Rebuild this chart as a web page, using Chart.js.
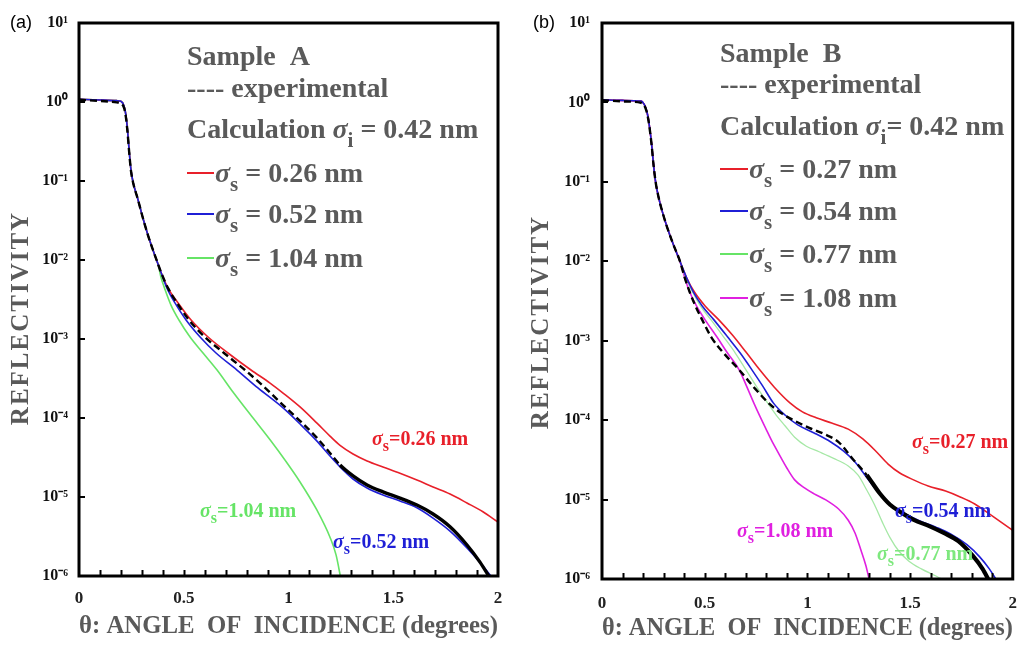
<!DOCTYPE html>
<html><head><meta charset="utf-8">
<script src="https://cdn.jsdelivr.net/npm/chart.js@4.4.0/dist/chart.umd.min.js"></script>
<style>
html,body{margin:0;padding:0;background:#fff;}
#wrap{position:relative;width:1031px;height:646px;overflow:hidden;}
#boxA{position:absolute;left:0;top:0;width:515px;height:646px;}
#boxB{position:absolute;left:515px;top:0;width:516px;height:646px;}
</style></head><body>
<div id="wrap"><div id="boxA"><canvas id="cA"></canvas></div><div id="boxB"><canvas id="cB"></canvas></div></div>
<script>
// ---------- axis ticks ----------
const xTickValues = [0, 0.5, 1, 1.5, 2];
const xTickLabels = ['0', '0.5', '1', '1.5', '2'];
const xMinorTicks = [0.1,0.2,0.3,0.4,0.5,0.6,0.7,0.8,0.9,1.0,1.1,1.2,1.3,1.4,1.5,1.6,1.7,1.8,1.9];
const yTickValues = [1e-6, 1e-5, 1e-4, 1e-3, 1e-2, 1e-1, 1, 10];
const yTickLabels = ['10⁻⁶','10⁻⁵','10⁻⁴','10⁻³','10⁻²','10⁻¹','10⁰','10¹'];

// ---------- panel (a) : Sample A ----------
const thetaHeadA   = [0, 0.1, 0.18, 0.2, 0.215, 0.224, 0.2315, 0.239, 0.248, 0.258, 0.282, 0.305, 0.329, 0.353, 0.377];
const reflHeadA    = [1.08, 1.06, 1.04, 1.02, 0.89, 0.68, 0.44, 0.25, 0.138, 0.097, 0.0574, 0.034, 0.0207, 0.0134, 0.0089];
const reflHeadExpA = [1.07, 1.03, 0.99, 0.96, 0.84, 0.64, 0.42, 0.24, 0.135, 0.096, 0.0574, 0.034, 0.0207, 0.0134, 0.0089];

const thetaExpA = [0.391,0.425,0.468,0.525,0.601,0.692,0.792,0.874,0.974,1.055,1.136,1.198,1.246,1.308,1.375,1.451,1.532,1.613,1.690,1.771,1.852,1.914,1.962];
const reflExpA  = [7.05e-3,4.4e-3,2.86e-3,1.74e-3,1.06e-3,6.65e-4,4.05e-4,2.62e-4,1.46e-4,9.2e-5,5.6e-5,3.6e-5,2.54e-5,1.85e-5,1.42e-5,1.16e-5,9.7e-6,7.9e-6,6.1e-6,4.2e-6,2.47e-6,1.5e-6,9.4e-7];

const thetaS026 = [0.391,0.425,0.473,0.535,0.616,0.711,0.821,0.912,0.974,1.055,1.136,1.198,1.246,1.308,1.375,1.451,1.532,1.613,1.690,1.771,1.852,1.928,2.0];
const reflS026  = [7.05e-3,4.4e-3,2.86e-3,1.74e-3,1.06e-3,6.65e-4,4.05e-4,2.77e-4,2.07e-4,1.38e-4,8.6e-5,5.9e-5,4.5e-5,3.5e-5,2.86e-5,2.4e-5,2.0e-5,1.64e-5,1.34e-5,1.09e-5,8.4e-6,6.5e-6,4.8e-6];

const thetaS052 = [0.391,0.420,0.458,0.511,0.578,0.654,0.754,0.854,0.974,1.055,1.136,1.198,1.246,1.308,1.375,1.451,1.532,1.613,1.690,1.771,1.852,1.928,1.981];
const reflS052  = [7.05e-3,4.4e-3,2.86e-3,1.74e-3,1.06e-3,6.65e-4,4.05e-4,2.4e-4,1.34e-4,8.4e-5,5.1e-5,3.3e-5,2.4e-5,1.69e-5,1.3e-5,1.06e-5,8.9e-6,7.3e-6,5.4e-6,3.7e-6,2.26e-6,1.34e-6,8.9e-7];

const thetaS104 = [0.391,0.411,0.439,0.477,0.530,0.592,0.659,0.735,0.816,0.912,0.983,1.055,1.136,1.198,1.227,1.251];
const reflS104  = [6.1e-3,4.2e-3,2.69e-3,1.74e-3,1.06e-3,6.65e-4,4.05e-4,2.13e-4,1.12e-4,5.3e-5,2.94e-5,1.55e-5,6.8e-6,3.1e-6,1.85e-6,8.9e-7];

// ---------- panel (b) : Sample B ----------
const thetaHeadB   = [0, 0.1, 0.19, 0.204, 0.213, 0.223, 0.232, 0.242, 0.251, 0.261, 0.275, 0.294, 0.318, 0.346, 0.379];
const reflHeadB    = [1.08, 1.06, 1.04, 0.96, 0.855, 0.68, 0.48, 0.29, 0.164, 0.1, 0.0647, 0.0419, 0.0264, 0.0166, 0.0101];
const reflHeadExpB = [1.07, 1.03, 0.99, 0.93, 0.83, 0.66, 0.47, 0.285, 0.162, 0.1, 0.0647, 0.0419, 0.0264, 0.0166, 0.0101];

const thetaExpB = [0.403,0.427,0.455,0.488,0.531,0.592,0.668,0.739,0.810,0.872,0.938,1.009,1.081,1.152,1.223,1.289,1.351,1.403,1.460,1.521,1.588,1.664,1.735,1.806,1.853,1.886];
const reflExpB  = [6.2e-3,4.1e-3,2.74e-3,1.83e-3,1.12e-3,7.0e-4,4.3e-4,2.6e-4,1.65e-4,1.23e-4,9.8e-5,8.0e-5,6.7e-5,5.3e-5,3.2e-5,2.04e-5,1.21e-5,8.6e-6,6.8e-6,5.5e-6,4.7e-6,3.8e-6,3.0e-6,1.95e-6,1.34e-6,9.4e-7];

const thetaS027 = [0.412,0.450,0.502,0.569,0.635,0.701,0.768,0.839,0.915,0.976,1.043,1.118,1.199,1.270,1.336,1.393,1.450,1.517,1.588,1.673,1.744,1.815,1.886,1.943,2.0];
const reflS027  = [6.2e-3,4.1e-3,2.74e-3,1.83e-3,1.18e-3,7.2e-4,4.3e-4,2.6e-4,1.65e-4,1.27e-4,1.07e-4,9.2e-5,7.7e-5,5.8e-5,4.0e-5,2.8e-5,2.16e-5,1.77e-5,1.48e-5,1.28e-5,1.08e-5,8.8e-6,6.6e-6,5.2e-6,4.1e-6];

const thetaS054 = [0.412,0.445,0.488,0.545,0.611,0.673,0.730,0.782,0.834,0.891,0.953,1.033,1.114,1.175,1.232,1.280,1.332,1.389,1.460,1.540,1.626,1.697,1.777,1.839,1.886,1.924];
const reflS054  = [6.2e-3,4.1e-3,2.74e-3,1.83e-3,1.12e-3,7.0e-4,4.3e-4,2.7e-4,1.65e-4,1.16e-4,8.7e-5,6.9e-5,5.3e-5,4.1e-5,2.98e-5,2.04e-5,1.36e-5,9.3e-6,7.0e-6,5.5e-6,4.5e-6,3.7e-6,2.7e-6,1.9e-6,1.34e-6,9.4e-7];

const thetaS077 = [0.408,0.441,0.479,0.531,0.592,0.649,0.701,0.754,0.806,0.848,0.891,0.938,0.995,1.057,1.128,1.199,1.246,1.289,1.327,1.365,1.403,1.445,1.493,1.555,1.626,1.673];
const reflS077  = [6.2e-3,4.1e-3,2.74e-3,1.83e-3,1.12e-3,7.0e-4,4.3e-4,2.6e-4,1.65e-4,1.16e-4,8.5e-5,6.1e-5,4.7e-5,4.0e-5,3.3e-5,2.65e-5,2.04e-5,1.32e-5,8.6e-6,5.2e-6,3.3e-6,2.25e-6,1.69e-6,1.34e-6,1.09e-6,9.4e-7];

const thetaS108 = [0.403,0.427,0.460,0.502,0.559,0.611,0.668,0.706,0.739,0.768,0.796,0.825,0.858,0.900,0.938,0.986,1.033,1.090,1.152,1.199,1.232,1.261,1.284,1.303];
const reflS108  = [6.2e-3,4.1e-3,2.74e-3,1.83e-3,1.12e-3,7.0e-4,4.3e-4,2.6e-4,1.65e-4,1.13e-4,8.0e-5,5.6e-5,3.9e-5,2.5e-5,1.77e-5,1.4e-5,1.18e-5,9.9e-6,7.6e-6,5.5e-6,3.8e-6,2.3e-6,1.5e-6,9.4e-7];

// ---------- styling ----------
const SERIF = "'Liberation Serif', 'Times New Roman', serif";
const GRAY = '#5a5a5a';
const RED = '#e8202a', BLUE = '#1f1fd6', GREEN_A = '#66e466', GREEN_B = '#a6e8a6', MAGENTA = '#e020e0';

function pts(th1, r1, th2, r2) {
  const th = th1.concat(th2), r = r1.concat(r2);
  return th.map((t, i) => ({x: t, y: r[i]}));
}

function calcSet(label, data, color, width) {
  return {label, data, borderColor: color, backgroundColor: color, borderWidth: width,
    pointRadius: 0, fill: false, cubicInterpolationMode: 'monotone'};
}
function expSet(data, noisyFrom, noisyWidth) {
  return {label: 'experimental', data, borderColor: '#000', backgroundColor: '#000', borderWidth: 2.4,
    pointRadius: 0, fill: false, cubicInterpolationMode: 'monotone', borderDash: [7, 4],
    segment: {
      borderDash: c => c.p0.parsed.x >= noisyFrom ? [] : [7, 4],
      borderWidth: c => c.p0.parsed.x >= noisyFrom ? noisyWidth : 2.4
    }};
}

function drawRich(ctx, x, y, parts, color) {
  for (const p of parts) {
    ctx.font = p.font;
    ctx.fillStyle = p.color || color;
    ctx.fillText(p.t, x, y + (p.dy || 0));
    x += ctx.measureText(p.t).width;
  }
  return x;
}
function sigma(sub, rest, size, subSize, dy) {
  return [
    {t: 'σ', font: `italic bold ${size}px ${SERIF}`},
    {t: sub, font: `bold ${subSize}px ${SERIF}`, dy: dy},
    {t: rest, font: `bold ${size}px ${SERIF}`}
  ];
}

const decoPlugin = {
  id: 'deco',
  afterDatasetsDraw(chart) {
    const {ctx, chartArea: a, scales: {x, y}} = chart;
    ctx.save();
    ctx.strokeStyle = '#000';
    ctx.lineWidth = 2;
    for (const v of xMinorTicks) {
      const px = Math.round(x.getPixelForValue(v)) + 0.5;
      ctx.beginPath(); ctx.moveTo(px, a.bottom); ctx.lineTo(px, a.bottom - 6); ctx.stroke();
    }
    for (const v of yTickValues) {
      const py = Math.round(y.getPixelForValue(v));
      ctx.beginPath(); ctx.moveTo(a.left, py); ctx.lineTo(a.left + 6, py); ctx.stroke();
    }
    ctx.lineWidth = 3;
    ctx.strokeRect(a.left, a.top, a.right - a.left, a.bottom - a.top);
    ctx.restore();
  },
  afterDraw(chart) {
    const o = chart.options.plugins.deco;
    const ctx = chart.ctx;
    ctx.save();
    ctx.textBaseline = 'alphabetic';
    ctx.textAlign = 'left';
    ctx.font = `18px 'Liberation Sans', Arial, sans-serif`;
    ctx.fillStyle = '#000';
    ctx.fillText(o.letter, o.letterX, 28);
    // y axis title
    ctx.save();
    ctx.translate(o.yTitleX, o.yTitleY);
    ctx.rotate(-Math.PI / 2);
    ctx.font = `bold 25px ${SERIF}`;
    ctx.fillStyle = GRAY;
    ctx.textAlign = 'center';
    ctx.textBaseline = 'middle';
    try { ctx.letterSpacing = '2px'; } catch (e) {}
    ctx.fillText('REFLECTIVITY', 0, 0);
    ctx.restore();
    // text block
    const bx = o.blockX, S = 28;
    ctx.font = `bold ${S}px ${SERIF}`;
    ctx.fillStyle = GRAY;
    ctx.fillText(o.sample, bx, o.rows[0]);
    ctx.fillText('---- experimental', bx, o.rows[1]);
    drawRich(ctx, bx, o.rows[2], [{t: 'Calculation ', font: `bold ${S}px ${SERIF}`}].concat(sigma('i', o.calcRest, S, 21, 9)), GRAY);
    o.legend.forEach((L, i) => {
      const yb = o.rows[3 + i];
      ctx.strokeStyle = L.color;
      ctx.lineWidth = 2;
      ctx.beginPath(); ctx.moveTo(bx, yb - 9); ctx.lineTo(bx + o.segLen, yb - 9); ctx.stroke();
      drawRich(ctx, bx + o.segLen + 1, yb, sigma('s', ' = ' + L.value + ' nm', S, 21, 9), GRAY);
    });
    for (const c of o.curveLabels) {
      drawRich(ctx, c.x, c.y, sigma('s', '=' + c.value + ' nm', 20, 16, 6), c.color);
    }
    ctx.restore();
  }
};
Chart.register(decoPlugin);

function makeChart(id, datasets, geom, deco) {
  return new Chart(document.getElementById(id), {
    type: 'line',
    data: {datasets},
    options: {
      responsive: true, maintainAspectRatio: false, animation: false, devicePixelRatio: 1,
      layout: {padding: {top: geom.top, right: geom.right, left: 0, bottom: 0}},
      plugins: {legend: {display: false}, tooltip: {enabled: false}, deco},
      scales: {
        x: {
          type: 'linear', min: 0, max: 2,
          afterBuildTicks: s => { s.ticks = xTickValues.map(v => ({value: v})); },
          afterFit: s => { s.height = geom.xh; },
          grid: {display: false, drawTicks: false},
          border: {display: false},
          ticks: {
            padding: geom.xpad, color: '#222',
            font: {family: SERIF, weight: 'bold', size: 17},
            callback: (v, i) => xTickLabels[i]
          },
          title: {display: true, text: 'θ: ANGLE  OF  INCIDENCE (degrees)', color: GRAY,
            font: {family: SERIF, weight: 'bold', size: 25}, padding: {top: 0, bottom: geom.tpad}}
        },
        y: {
          type: 'logarithmic', min: 1e-6, max: 10,
          afterBuildTicks: s => { s.ticks = yTickValues.map(v => ({value: v})); },
          afterFit: s => { s.width = geom.yw; },
          grid: {display: false, drawTicks: false},
          border: {display: false},
          ticks: {
            padding: geom.ypad, color: '#111',
            font: {family: SERIF, weight: 'bold', size: 16},
            callback: (v, i) => yTickLabels[i]
          }
        }
      }
    }
  });
}

makeChart('cA', [
  expSet(pts(thetaHeadA, reflHeadExpA, thetaExpA, reflExpA), 1.2, 3.4),
  calcSet('σs = 0.52 nm', pts(thetaHeadA, reflHeadA, thetaS052, reflS052), BLUE, 1.6),
  calcSet('σs = 0.26 nm', pts(thetaHeadA, reflHeadA, thetaS026, reflS026), RED, 1.6),
  calcSet('σs = 1.04 nm', pts(thetaHeadA, reflHeadA, thetaS104, reflS104), GREEN_A, 1.6)
], {top: 23, right: 17, xh: 70, yw: 79, xpad: 12, ypad: 11, tpad: 4}, {
  letter: '(a)', letterX: 10, yTitleX: 22, yTitleY: 318,
  blockX: 187, sample: 'Sample  A', calcRest: ' = 0.42 nm', segLen: 27,
  rows: [65, 97, 138, 182, 223, 267],
  legend: [{color: RED, value: '0.26'}, {color: BLUE, value: '0.52'}, {color: GREEN_A, value: '1.04'}],
  curveLabels: [
    {x: 372, y: 445, color: RED, value: '0.26'},
    {x: 200, y: 517, color: GREEN_A, value: '1.04'},
    {x: 333, y: 548, color: BLUE, value: '0.52'}
  ]
});

makeChart('cB', [
  expSet(pts(thetaHeadB, reflHeadExpB, thetaExpB, reflExpB), 1.25, 4.2),
  calcSet('σs = 0.54 nm', pts(thetaHeadB, reflHeadB, thetaS054, reflS054), BLUE, 1.6),
  calcSet('σs = 0.27 nm', pts(thetaHeadB, reflHeadB, thetaS027, reflS027), RED, 1.6),
  calcSet('σs = 0.77 nm', pts(thetaHeadB, reflHeadB, thetaS077, reflS077), GREEN_B, 1.3),
  calcSet('σs = 1.08 nm', pts(thetaHeadB, reflHeadB, thetaS108, reflS108), MAGENTA, 1.6)
], {top: 23, right: 7, xh: 67, yw: 87, xpad: 14, ypad: 12, tpad: 2}, {
  letter: '(b)', letterX: 18, yTitleX: 27, yTitleY: 322,
  blockX: 205, sample: 'Sample  B', calcRest: '= 0.42 nm', segLen: 28,
  rows: [62, 93, 135, 178, 220, 263, 307],
  legend: [{color: RED, value: '0.27'}, {color: BLUE, value: '0.54'}, {color: '#66e466', value: '0.77'}, {color: MAGENTA, value: '1.08'}],
  curveLabels: [
    {x: 397, y: 448, color: RED, value: '0.27'},
    {x: 380, y: 517, color: BLUE, value: '0.54'},
    {x: 222, y: 537, color: MAGENTA, value: '1.08'},
    {x: 362, y: 560, color: '#7ee87e', value: '0.77'}
  ]
});
</script>
</body></html>
